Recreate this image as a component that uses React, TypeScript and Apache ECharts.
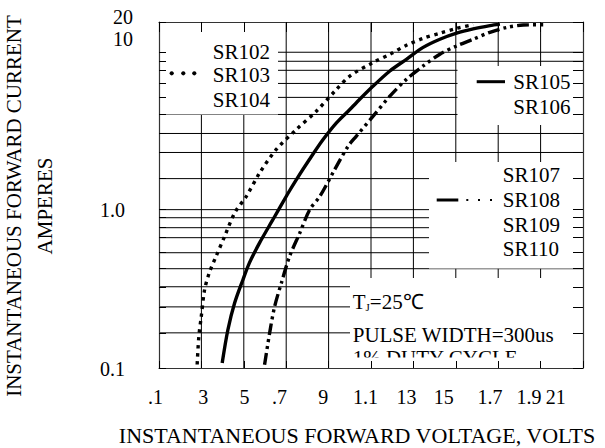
import React, { useEffect, useRef } from 'react';
import * as echarts from 'echarts';

// ---------- data ----------
const X_TICK_LABELS = ['.1', '3', '5', '.7', '9', '1.1', '13', '15', '1.7', '1.9', '21'];
const X_MIN = 0.1;
const X_MAX = 2.1;
const X_STEP = 0.2;

// rules of the printed log paper (amperes) and where the paper puts them, in decades above 0.1 A
const GRID_CURRENT = [0.1, 0.2, 0.3, 0.4, 0.5, 0.6, 0.7, 0.8, 0.9, 1, 2, 3, 4, 5, 6, 7, 8, 9, 10, 20];
const PAPER_DECADES = [0, 0.222, 0.386, 0.513, 0.627, 0.728, 0.823, 0.886, 0.949, 1, 1.196, 1.361, 1.481, 1.601, 1.709, 1.797, 1.88, 1.937, 1.994, 2.185];

const Y_TICK_VALUES = [0.1, 1, 10, 20];
const Y_TICK_LABELS = ['0.1', '1.0', '10', '20'];

// SR102 / SR103 / SR104 (dotted)
const SR102_V = [0.28, 0.288, 0.299, 0.315, 0.338, 0.37, 0.409, 0.457, 0.512, 0.575, 0.653, 0.748, 0.842, 0.937, 1.0, 1.11, 1.189, 1.267, 1.346, 1.425, 1.504, 1.582];
const SR102_I = [0.11, 0.19, 0.26, 0.385, 0.48, 0.58, 0.71, 0.96, 1.43, 2.22, 3.16, 4.21, 5.19, 6.57, 7.56, 8.86, 9.78, 12.3, 14.6, 16.3, 17.9, 19.1];

// SR105 / SR106 (solid)
const SR105_V = [0.398, 0.425, 0.457, 0.496, 0.527, 0.575, 0.637, 0.708, 0.748, 0.811, 0.874, 0.937, 1.0, 1.031, 1.11, 1.189, 1.267, 1.346, 1.425, 1.504, 1.582, 1.661, 1.708];
const SR105_I = [0.114, 0.212, 0.32, 0.439, 0.538, 0.667, 0.88, 1.52, 1.97, 2.75, 3.68, 4.56, 5.29, 5.69, 6.81, 7.95, 9.22, 11.6, 14.3, 16.3, 17.7, 18.8, 19.3];

// SR107 .. SR110 (dash dot dot)
const SR107_V = [0.598, 0.622, 0.645, 0.677, 0.716, 0.764, 0.811, 0.858, 0.929, 0.992, 1.031, 1.11, 1.189, 1.267, 1.346, 1.425, 1.504, 1.582, 1.661, 1.74, 1.818, 1.929];
const SR107_I = [0.109, 0.2, 0.3, 0.42, 0.577, 0.747, 1.0, 1.42, 2.35, 3.33, 3.86, 4.91, 6.09, 7.31, 8.48, 9.78, 12.1, 14.3, 16.6, 18.2, 19.0, 19.1];

const LEGEND_A = ['SR102', 'SR103', 'SR104'];
const LEGEND_B = ['SR105', 'SR106'];
const LEGEND_C = ['SR107', 'SR108', 'SR109', 'SR110'];
const NOTE_PULSE = 'PULSE WIDTH=300us';
const NOTE_DUTY = '1% DUTY CYCLE';
const X_TITLE = 'INSTANTANEOUS FORWARD VOLTAGE, VOLTS';
const Y_TITLE = 'INSTANTANEOUS FORWARD CURRENT\nAMPERES';

// ---------- style ----------
const FONT = '"Liberation Serif", "Times New Roman", serif';
const X_LABEL_NUDGE = [-3.5, 1.8, 0.8, -6.6, -5.4, -5.5, -6.9, -12, -8.3, -11.7, -27.3];
const Y_LABEL_NUDGE: [number, number][] = [[-8, 1], [-8, 0], [0, -13], [0, -5]];

function toPaper(c: number): number {
  const g = GRID_CURRENT;
  const p = PAPER_DECADES;
  if (c <= g[0]) return p[0];
  for (let k = 0; k < g.length - 1; k++) {
    if (c <= g[k + 1]) {
      const t = (c - g[k]) / (g[k + 1] - g[k]);
      return p[k] + t * (p[k + 1] - p[k]);
    }
  }
  return p[p.length - 1];
}

const Y_MAX = PAPER_DECADES[PAPER_DECADES.length - 1];

export default function App() {
  const ref = useRef<HTMLDivElement>(null);

  useEffect(() => {
    if (!ref.current) return;
    const chart = echarts.init(ref.current, undefined, { renderer: 'svg' });

    const series: any[] = [];
    // paper rules (horizontal)
    GRID_CURRENT.slice(1, -1).forEach((c) => {
      series.push({
        type: 'line', silent: true, symbol: 'none', z: 1, animation: false,
        data: [[X_MIN, toPaper(c)], [X_MAX, toPaper(c)]],
        lineStyle: { color: '#000', width: 1 },
      });
    });
    // paper rules (vertical)
    for (let k = 1; k < X_TICK_LABELS.length - 1; k++) {
      const x = X_MIN + k * X_STEP;
      series.push({
        type: 'line', silent: true, symbol: 'none', z: 1, animation: false,
        data: [[x, 0], [x, Y_MAX]],
        lineStyle: { color: '#000', width: 1 },
      });
    }
    const curve = (name: string, V: number[], I: number[], dash: any) => ({
      name, type: 'line', symbol: 'none', smooth: 0.3, z: 4, silent: true, animation: false,
      data: V.map((v, k) => [v, toPaper(I[k])]),
      lineStyle: { color: '#000', width: 3.4, type: dash, cap: 'butt' },
    });
    series.push(curve('SR102-SR104', SR102_V, SR102_I, [3.4, 4.6]));
    series.push(curve('SR105-SR106', SR105_V, SR105_I, 'solid'));
    series.push(curve('SR107-SR110', SR107_V, SR107_I, [12, 4, 3, 4, 3, 4]));

    const xRich: any = {};
    X_TICK_LABELS.forEach((_, i) => {
      const d = X_LABEL_NUDGE[i];
      xRich['x' + i] = {
        fontFamily: FONT, fontSize: 20, color: '#000',
        padding: [0, d < 0 ? -2 * d : 0, 0, d > 0 ? 2 * d : 0],
      };
    });
    const yRich: any = {};
    Y_TICK_LABELS.forEach((_, i) => {
      const [dx, dy] = Y_LABEL_NUDGE[i];
      yRich['y' + i] = {
        fontFamily: FONT, fontSize: 20, color: '#000',
        padding: [dy > 0 ? 2 * dy : 0, dx < 0 ? -dx : 0, dy < 0 ? -2 * dy : 0, 0],
      };
    });

    const axisLine = { show: true, onZero: false, lineStyle: { color: '#333', width: 1.2 } };
    const tickStyle = { color: '#000', width: 1 };
    const yTickValues = GRID_CURRENT.map(toPaper);

    const text = (t: string, x: number, y: number, extra: any = {}) => ({
      type: 'text', x, y, z: 5, silent: true,
      style: { text: t, fill: '#000', fontFamily: FONT, fontSize: 21, align: 'left', verticalAlign: 'middle', ...extra },
    });
    const rect = (x: number, y: number, w: number, h: number, z: number) => ({
      type: 'rect', z, silent: true, shape: { x, y, width: w, height: h }, style: { fill: '#fff' },
    });

    const graphics: any[] = [
      rect(160, 23, 118, 91.5, 3),
      rect(457.5, 66, 125, 59, 3),
      rect(429, 162, 154, 106.5, 3),
      rect(350, 278, 233, 90, 3),
      ...LEGEND_A.map((s, i) => text(s, 212.7, [51.7, 75, 100][i])),
      ...LEGEND_B.map((s, i) => text(s, 513.3, [81.7, 107.3][i])),
      ...LEGEND_C.map((s, i) => text(s, 502.7, [175, 200, 225, 249][i])),
      ...[171.7, 183.3, 194.3].map((cx) => ({
        type: 'circle', z: 5, silent: true, shape: { cx, cy: 73.3, r: 2.1 }, style: { fill: '#000' },
      })),
      { type: 'line', z: 5, silent: true, shape: { x1: 476.7, y1: 81.7, x2: 505, y2: 81.7 }, style: { stroke: '#000', lineWidth: 3 } },
      { type: 'line', z: 5, silent: true, shape: { x1: 436.7, y1: 200, x2: 458.3, y2: 200 }, style: { stroke: '#000', lineWidth: 3 } },
      ...[467.3, 479, 491].map((cx) => ({
        type: 'rect', z: 5, silent: true, shape: { x: cx - 1, y: 199, width: 2, height: 2 }, style: { fill: '#000' },
      })),
      text('{a|T}{s|J}{a|=25℃}', 352.7, 301.7, {
        rich: {
          a: { fontFamily: FONT, fontSize: 21, color: '#000' },
          s: { fontFamily: FONT, fontSize: 11, color: '#000', padding: [10, 0, 0, 0] },
        },
      }),
      text(NOTE_PULSE, 352.7, 335),
      text(NOTE_DUTY, 352.7, 357.5),
      rect(350, 357.5, 233, 22, 6),
    ];

    chart.setOption({
      animation: false,
      backgroundColor: '#fff',
      grid: { left: 159, right: 22, top: 22, bottom: 80, show: false, containLabel: false, outerBoundsMode: 'none' },
      xAxis: [
        {
          type: 'value', min: X_MIN, max: X_MAX, interval: X_STEP, position: 'bottom', z: 10,
          axisLine, splitLine: { show: false },
          axisTick: { show: true, inside: true, length: 7, lineStyle: tickStyle },
          axisLabel: {
            margin: 19,
            alignMinLabel: 'center',
            alignMaxLabel: 'center',
            formatter: (v: number) => {
              const i = Math.round((v - X_MIN) / X_STEP);
              return `{x${i}|${X_TICK_LABELS[i]}}`;
            },
            rich: xRich,
          },
          name: X_TITLE, nameLocation: 'middle', nameGap: 56,
          nameTextStyle: { fontFamily: FONT, fontSize: 22, color: '#000', padding: [0, 28, 0, 0] },
        },
        {
          type: 'value', min: X_MIN, max: X_MAX, interval: X_STEP, position: 'top', z: 10,
          axisLine, splitLine: { show: false },
          axisTick: { show: true, inside: true, length: 10, lineStyle: tickStyle },
          axisLabel: { show: false },
        },
      ],
      yAxis: [
        {
          type: 'value', min: 0, max: Y_MAX, position: 'left', z: 10,
          axisLine, splitLine: { show: false },
          axisTick: { show: true, inside: true, length: 7, lineStyle: tickStyle, customValues: yTickValues },
          axisLabel: {
            margin: 26,
            customValues: Y_TICK_VALUES.map(toPaper),
            formatter: (v: number) => {
              let k = 0;
              Y_TICK_VALUES.forEach((c, i) => { if (Math.abs(toPaper(c) - v) < 1e-6) k = i; });
              return `{y${k}|${Y_TICK_LABELS[k]}}`;
            },
            rich: yRich,
          },
          name: Y_TITLE, nameLocation: 'middle', nameGap: 98.5, nameRotate: 90,
          nameTextStyle: { fontFamily: FONT, fontSize: 21, color: '#000', lineHeight: 31, align: 'center', padding: [0, 22, 0, 0] },
        },
        {
          type: 'value', min: 0, max: Y_MAX, position: 'right', z: 10,
          axisLine, splitLine: { show: false },
          axisTick: { show: true, inside: true, length: 10, lineStyle: tickStyle, customValues: yTickValues },
          axisLabel: { show: false },
        },
      ],
      series,
      graphic: { elements: graphics },
    });

    return () => chart.dispose();
  }, []);

  return <div ref={ref} style={{ position: 'absolute', left: 0, top: 0, width: 605, height: 448 }} />;
}
